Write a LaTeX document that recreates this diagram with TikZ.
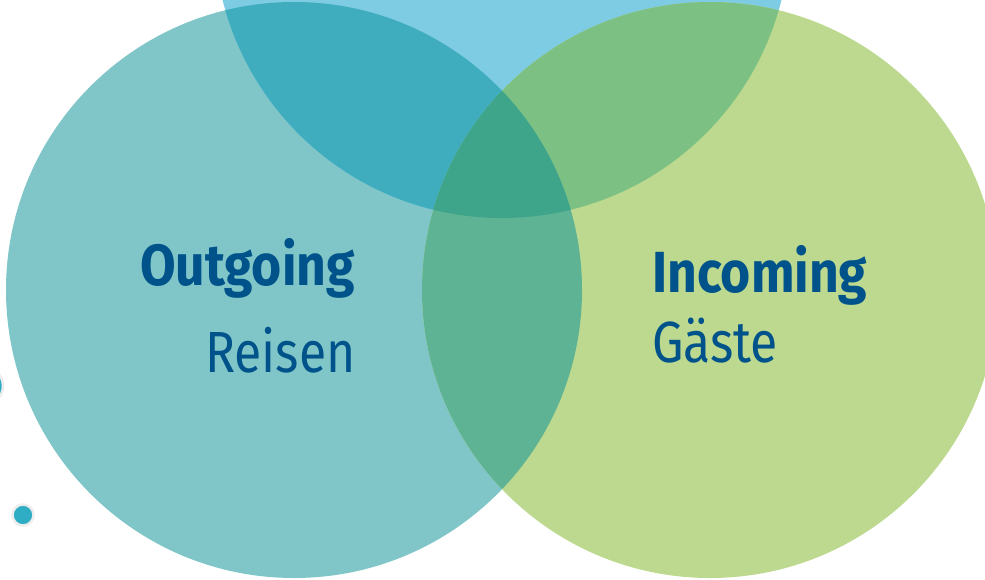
\documentclass[tikz,border=0pt]{standalone}
\usepackage{fontspec}
\setmainfont{Fira Sans}
\newfontfamily\headfont{Fira Sans}[FakeStretch=0.89]
\newfontfamily\subfont{Fira Sans}[FakeStretch=0.86]
\usetikzlibrary{positioning}

\definecolor{outCol}{HTML}{80C6C8}
\definecolor{topCol}{HTML}{7ECBE4}
\definecolor{inCol}{HTML}{BDD98F}
\definecolor{outTopCol}{HTML}{3FADBD}
\definecolor{topInCol}{HTML}{7CC183}
\definecolor{outInCol}{HTML}{5DB393}
\definecolor{allCol}{HTML}{3EA58A}
\definecolor{dotCol}{HTML}{2FADC5}
\definecolor{labelCol}{HTML}{00538A}

% fill the lens where circle #1 and circle #2 overlap
\newcommand{\fillLens}[3]{
    \begin{scope}
        \clip (#1) circle (\R);
        \fill[#3] (#2) circle (\R);
    \end{scope}
}

\begin{document}
\begin{tikzpicture}[x=1pt,y=-1pt,
    heading/.style={text=labelCol,inner sep=0pt,anchor=base west,font=\headfont\fontsize{58}{60}\selectfont\bfseries},
    subheading/.style={text=labelCol,inner sep=0pt,anchor=base west,font=\subfont\fontsize{58}{60}\selectfont},
    dot/.style={fill=dotCol,draw=black!7,line width=2.5pt}]
            % --- Variables ---
            \def\R{288}
            \coordinate (outC) at (294,290);
            \coordinate (topC) at (502,-70);
            \coordinate (inC)  at (710,290);

            \useasboundingbox (0,0) rectangle (985,579);
            \clip (0,0) rectangle (985,579);

            % Circles
            \fill[outCol] (outC) circle (\R);
            \fill[topCol] (topC) circle (\R);
            \fill[inCol]  (inC)  circle (\R);

            % Overlaps
            \fillLens{outC}{topC}{outTopCol}
            \fillLens{topC}{inC}{topInCol}
            \fillLens{outC}{inC}{outInCol}
            \begin{scope}
                \clip (outC) circle (\R);
                \clip (topC) circle (\R);
                \fill[allCol] (inC) circle (\R);
            \end{scope}

            % Dots
            \filldraw[dot] (-16,386) circle (19);
            \filldraw[dot] (23,515) circle (10.5);

            % Labels
            \node[heading] (outgoing) at (140,285) {Outgoing};
            \node[subheading] (reisen) at (205,372) {Reisen};
            \node[heading] (incoming) at (652,292) {Incoming};
            \node[subheading] (gaeste) at (652,362) {Gäste};

        \end{tikzpicture}
\end{document}
